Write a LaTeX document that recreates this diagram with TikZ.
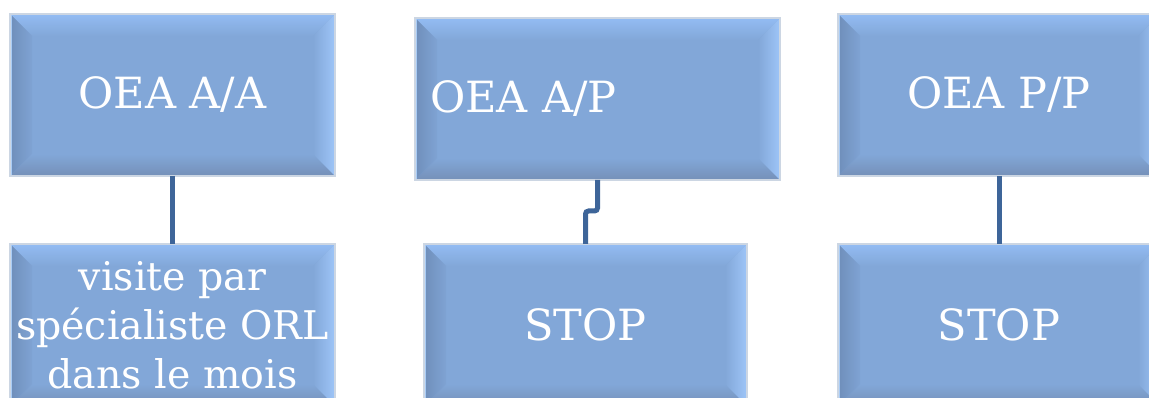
\documentclass[tikz,border=0pt]{standalone}
\usepackage{fontspec}
\setmainfont{DejaVu Serif}
\usetikzlibrary{calc}

\definecolor{boxfill}{HTML}{82A7D8}
\definecolor{boxrim}{HTML}{CCD6E3}
\definecolor{bevtop}{HTML}{93BCF3}
\definecolor{bevleft}{HTML}{6F8EBA}
\definecolor{bevright}{HTML}{9EC5F8}
\definecolor{bevbot}{HTML}{7590B8}
\definecolor{bevhi}{HTML}{A9CCF6}
\definecolor{linkblue}{HTML}{3E6599}

\tikzset{
  bevbox/.style={
    draw=boxrim, line width=1.2pt, fill=boxfill,
    minimum height=162pt, inner sep=0pt, outer sep=0pt,
    text=white, align=center,
    font=\fontsize{43pt}{52pt}\selectfont,
    path picture={
      \path (path picture bounding box.north west) coordinate (@nw)
            (path picture bounding box.north east) coordinate (@ne)
            (path picture bounding box.south west) coordinate (@sw)
            (path picture bounding box.south east) coordinate (@se);
      \path (@nw) ++(22pt,-22pt) coordinate (@inw)
            (@ne) ++(-22pt,-22pt) coordinate (@ine)
            (@sw) ++(22pt,22pt) coordinate (@isw)
            (@se) ++(-22pt,22pt) coordinate (@ise);
      \shade[top color=bevtop, bottom color=boxfill]
        (@nw) -- (@ne) -- (@ine) -- (@inw) -- cycle;
      \shade[top color=boxfill, bottom color=bevbot]
        (@sw) -- (@isw) -- (@ise) -- (@se) -- cycle;
      \shade[left color=bevleft, right color=boxfill!85!bevleft]
        (@nw) -- (@inw) -- (@isw) -- (@sw) -- cycle;
      \shade[left color=boxfill, right color=bevright]
        (@ne) -- (@se) -- (@ise) -- (@ine) -- cycle;
      \draw[bevhi, line width=3pt] (@sw) -- (@nw) -- (@ne);
    }
  },
  link/.style={draw=linkblue, line width=5pt, rounded corners=3pt}
}

\begin{document}
\begin{tikzpicture}[x=1pt,y=-1pt]
  \useasboundingbox (0,0) rectangle (1149,398);

  % top row
  \node[bevbox, minimum width=325pt] (a1) at (172.5,95) {OEA A/A};
  \node[bevbox, minimum width=365pt, text width=335pt, align=left] (a2) at (597.5,99) {OEA A/P};
  \node[bevbox, minimum width=322pt] (a3) at (999,95) {OEA P/P};

  % bottom row
  \node[bevbox, minimum width=325pt, font=\fontsize{39.5pt}{49pt}\selectfont] (b1) at (172.5,325)
    {visite par\\spécialiste ORL\\dans le mois};
  \node[bevbox, minimum width=323pt] (b2) at (585.5,325) {STOP};
  \node[bevbox, minimum width=322pt] (b3) at (999,325) {STOP};

  % connectors
  \draw[link] (a1.south) -- (b1.north);
  \draw[link] (a2.south) -- ++(0,31) -| (b2.north);
  \draw[link] (a3.south) -- (b3.north);
\end{tikzpicture}
\end{document}
